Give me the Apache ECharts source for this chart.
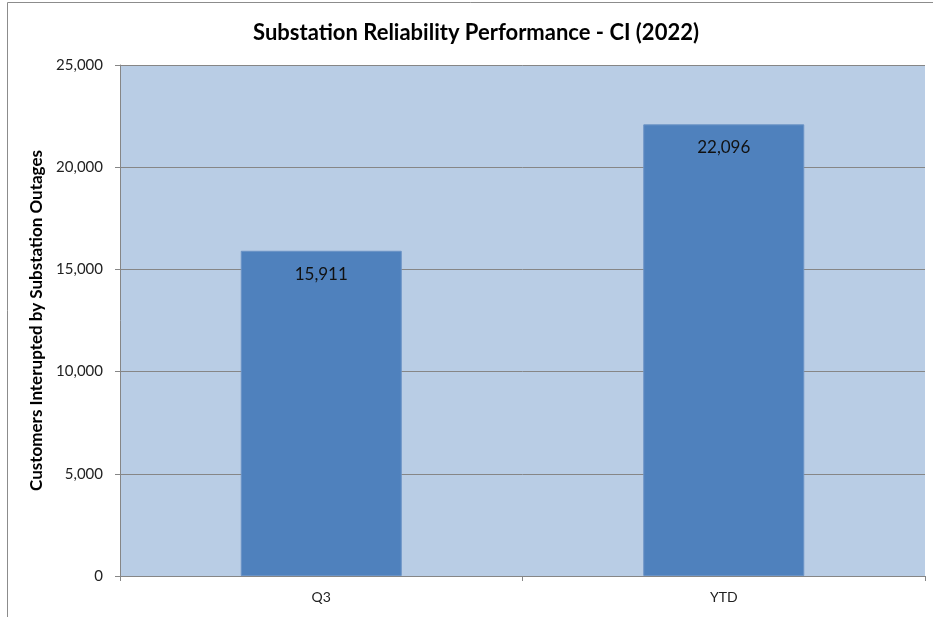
<!DOCTYPE html>
<html>
<head>
<meta charset="utf-8">
<script src="https://cdn.jsdelivr.net/npm/echarts@6/dist/echarts.min.js"></script>
<style>
  html, body { margin: 0; padding: 0; background: #fff; }
  #chart { width: 933px; height: 617px; }
</style>
</head>
<body>
<div id="chart"></div>
<script>
  // data
  const categories = ['Q3', 'YTD']
  const customersInterrupted = [15911, 22096]
  const yTicks = [0, 5000, 10000, 15000, 20000, 25000]

  const fontFamily = 'Lato, "Open Sans", sans-serif'
  const fmt = v => v.toLocaleString('en-US')

  const chart = echarts.init(document.getElementById('chart'))
  chart.setOption({
    backgroundColor: '#fff',
    animation: false,
    textStyle: { fontFamily: fontFamily },
    graphic: [
      {
        // outer chart border (clipped at right / bottom)
        type: 'rect',
        shape: { x: 7.5, y: 2.5, width: 1000, height: 1000 },
        style: { fill: 'none', stroke: '#8c8c8c', lineWidth: 1 },
        silent: true,
      },
    ],
    title: {
      text: 'Substation Reliability Performance - CI (2022)',
      left: 471,
      textAlign: 'center',
      top: 17,
      textStyle: { fontSize: 22, fontWeight: 'bold', color: '#000', fontFamily: fontFamily },
    },
    grid: {
      left: 120,
      right: 8,
      top: 65,
      bottom: 41,
      show: true,
      backgroundColor: '#b9cde5',
      borderWidth: 0,
    },
    xAxis: {
      type: 'category',
      data: categories,
      axisLine: { show: true, lineStyle: { color: '#868686', width: 1 } },
      axisTick: { show: true, alignWithLabel: false, length: 5, inside: false, lineStyle: { color: '#868686' } },
      axisLabel: { color: '#222', fontSize: 14, margin: 14 },
    },
    yAxis: {
      type: 'value',
      min: yTicks[0],
      max: yTicks[yTicks.length - 1],
      interval: 5000,
      name: 'Customers Interupted by Substation Outages',
      nameLocation: 'middle',
      nameGap: 65,
      nameTextStyle: { fontSize: 17, fontWeight: 'bold', color: '#000' },
      axisLine: { show: true, lineStyle: { color: '#868686' } },
      axisTick: { show: true, length: 5, lineStyle: { color: '#868686' } },
      axisLabel: { color: '#222', fontSize: 15, margin: 17, formatter: v => fmt(v) },
      splitLine: { show: true, lineStyle: { color: '#868686', width: 1 } },
    },
    series: [
      {
        type: 'bar',
        data: customersInterrupted,
        barWidth: '40%',
        itemStyle: { color: '#4f81bd', borderColor: '#6b93c6', borderWidth: 1 },
        label: {
          show: true,
          position: 'insideTop',
          distance: 15,
          color: '#111',
          fontSize: 17,
          formatter: p => fmt(p.value),
        },
      },
    ],
  })
</script>
</body>
</html>
